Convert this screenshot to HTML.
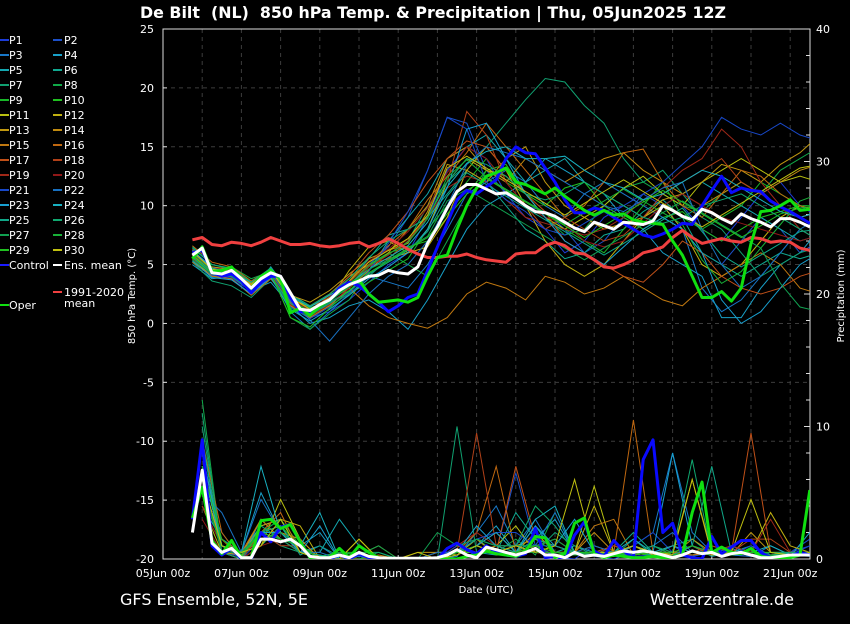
<!DOCTYPE html>
<html><head><meta charset="utf-8">
<style>
html,body{margin:0;padding:0;background:#000;}
body{width:850px;height:620px;overflow:hidden;font-family:"DejaVu Sans","Liberation Sans",sans-serif;}
svg text{font-family:"DejaVu Sans","Liberation Sans",sans-serif;fill:#fff;}
</style></head>
<body>
<svg id="chart" width="850" height="620" viewBox="0 0 850 620" xmlns="http://www.w3.org/2000/svg">
<rect x="0" y="0" width="850" height="620" fill="#000"/>
<text x="140" y="18" font-size="16" font-weight="bold" textLength="586" lengthAdjust="spacingAndGlyphs" style="white-space:pre">De Bilt&#160; (NL)&#160; 850 hPa Temp. &amp; Precipitation | Thu, 05Jun2025 12Z</text>
<defs><clipPath id="plotclip"><rect x="163" y="29" width="647" height="530"/></clipPath></defs>
<g id="grid"></g>
<g id="axes"></g>
<g id="series" clip-path="url(#plotclip)"></g>
<g id="legend"></g>
<text x="120" y="605" font-size="16">GFS Ensemble, 52N, 5E</text>
<text x="794" y="605" font-size="16" text-anchor="end">Wetterzentrale.de</text>
</svg>
<script>
// ---- data ----
const xTickLabels = ["05Jun 00z","07Jun 00z","09Jun 00z","11Jun 00z","13Jun 00z","15Jun 00z","17Jun 00z","19Jun 00z","21Jun 00z"];
const xTickDays = [0,2,4,6,8,10,12,14,16];
const tempTicks = [25,20,15,10,5,0,-5,-10,-15,-20];
const precipTicks = [0,10,20,30,40];
// 6-hourly main series, starting 05Jun 18z
const ensMean = [5.8,6.4,4.3,4.2,4.5,3.8,3.0,3.8,4.3,4.0,2.6,1.2,1.1,1.6,2.0,2.8,3.3,3.6,4.0,4.1,4.5,4.3,4.2,4.8,6.8,8.2,9.8,11.2,11.8,11.8,11.4,11.0,11.1,10.6,10.0,9.5,9.4,9.1,8.6,8.1,7.8,8.6,8.3,8.0,8.6,8.5,8.4,8.7,10.0,9.6,9.1,8.8,9.7,9.4,8.9,8.5,9.3,8.9,8.6,8.2,8.9,8.9,8.6,8.2];
const controlTemp = [6.0,6.2,4.4,4.0,4.2,3.6,2.6,3.5,4.0,4.0,2.2,1.0,1.0,1.6,2.0,3.0,3.5,3.2,2.5,1.8,1.0,1.5,2.2,2.5,4.5,6.5,8.5,10.5,11.3,11.0,11.6,12.2,14.0,15.0,14.5,14.4,13.2,12.0,10.5,9.4,9.4,9.8,9.6,9.0,8.5,8.0,7.5,7.3,7.6,8.0,8.5,8.4,10.0,11.3,12.5,11.1,11.5,11.3,11.2,10.4,9.9,9.5,9.0,8.5];
const operTemp = [5.5,6.5,4.4,4.5,4.8,3.8,3.0,4.0,4.5,3.8,0.9,1.3,0.7,1.5,2.0,2.8,3.3,3.7,2.5,1.8,1.9,2.0,1.8,2.2,4.0,5.6,5.8,8.0,10.0,11.5,12.5,12.8,13.2,12.0,11.8,11.4,11.0,11.5,10.8,10.2,9.6,9.2,9.6,9.2,9.3,8.8,8.6,8.5,8.4,7.0,5.8,4.0,2.2,2.2,2.7,1.9,3.0,6.8,9.5,9.6,10.0,10.5,9.6,9.7];
const climTemp = [7.1,7.3,6.7,6.6,6.9,6.8,6.6,6.9,7.3,7.0,6.7,6.7,6.8,6.6,6.5,6.6,6.8,6.9,6.5,6.8,7.2,6.8,6.3,5.9,5.6,5.6,5.7,5.7,5.9,5.6,5.4,5.3,5.2,5.9,6.0,6.0,6.6,6.9,6.6,6.0,5.9,5.4,4.8,4.7,5.0,5.4,6.0,6.2,6.5,7.3,7.9,7.3,6.8,7.0,7.2,7.0,6.9,7.3,7.2,6.9,7.0,6.9,6.4,6.2];
const ensMeanPrecip = [2.0,6.7,1.2,0.5,0.8,0.1,0.1,1.5,1.5,1.3,1.5,1.0,0.2,0.1,0.1,0.3,0.1,0.5,0.2,0.1,0.05,0.05,0.05,0.05,0.05,0.1,0.3,0.7,0.3,0.1,0.9,0.7,0.5,0.3,0.5,0.8,0.3,0.3,0.1,0.5,0.2,0.3,0.2,0.4,0.6,0.5,0.6,0.5,0.3,0.1,0.3,0.6,0.4,0.5,0.2,0.4,0.5,0.3,0.1,0.1,0.2,0.3,0.3,0.3];
const controlPrecip = [3.0,9.0,1.0,0.3,0.8,0.0,0.0,2.0,1.3,2.4,2.6,1.3,0.1,0.0,0.0,0.3,0.0,0.4,0.1,0.0,0.0,0.0,0.0,0.0,0.0,0.0,0.8,1.2,0.7,0.4,1.0,0.5,0.3,0.2,0.4,2.3,0.1,0.2,0.0,1.8,2.8,0.6,0.2,1.4,0.6,0.1,7.5,9.0,2.0,2.7,0.3,0.1,0.0,1.7,0.4,0.9,1.4,1.4,0.5,0.1,0.0,0.2,0.5,0.3];
const operPrecip = [3.1,5.4,1.4,0.4,1.4,0.1,0.1,2.9,3.0,2.3,2.6,1.3,0.1,0.1,0.1,0.8,0.1,1.0,0.5,0.1,0.0,0.0,0.0,0.0,0.0,0.0,0.0,0.0,0.2,0.3,0.6,0.4,0.3,0.2,0.6,1.7,1.6,0.1,0.4,2.7,3.1,0.4,0.1,0.3,0.2,0.1,0.1,0.2,0.1,0.1,0.3,3.5,5.8,0.5,0.9,0.5,0.4,0.8,0.2,0.1,0.1,0.1,0.3,5.2];
// 12-hourly member temperatures, starting 05Jun 18z
const memberTemps = [
[5.5,4.0,3.8,2.5,4.0,1.5,0.5,1.0,2.0,3.5,5.0,6.0,9.0,13.0,15.0,14.0,11.0,9.0,8.0,6.0,7.0,9.0,10.0,9.0,11.0,10.0,8.0,7.0,9.0,11.0,12.0,10.0,9.0],
[6.0,4.5,4.0,3.0,4.5,2.0,1.0,1.5,3.0,5.0,6.5,9.0,13.0,17.5,17.0,13.0,11.0,10.0,9.5,8.0,6.0,7.0,9.0,11.0,10.0,8.0,6.0,5.0,7.0,9.0,8.0,6.0,7.0],
[6.2,4.8,4.5,3.2,4.2,1.0,-0.5,1.0,2.5,4.0,3.5,3.0,5.0,8.0,11.0,12.0,13.0,12.0,10.0,9.0,11.0,12.0,11.0,10.0,9.0,8.0,3.0,1.0,2.0,4.0,6.0,8.0,7.0],
[5.0,3.8,4.0,2.8,3.5,1.5,0.0,0.5,1.5,2.0,1.0,-0.5,2.0,5.0,8.0,10.0,11.0,12.0,14.0,13.0,12.0,11.0,9.0,8.0,6.0,5.0,4.0,0.5,0.5,3.0,5.0,6.0,8.0],
[5.8,4.2,4.4,2.6,4.8,2.5,1.5,2.0,3.0,4.5,7.0,9.0,11.0,14.0,15.0,16.0,14.0,12.0,13.0,14.0,12.0,11.0,10.0,9.0,10.0,11.0,12.0,11.0,10.0,9.0,8.0,7.0,7.5],
[6.4,5.0,4.6,3.4,4.0,2.0,1.2,2.2,3.5,5.5,7.5,8.0,9.0,11.0,13.0,12.0,10.0,8.0,7.0,5.5,6.0,7.5,8.0,9.5,10.5,9.0,6.0,5.0,4.0,5.0,6.0,5.5,6.0],
[5.2,3.6,3.2,2.2,3.8,1.8,0.8,1.8,2.8,4.0,5.5,7.0,10.0,12.0,13.5,15.0,17.0,19.0,20.8,20.5,18.5,17.0,14.0,12.0,13.0,11.0,9.0,8.0,6.0,4.0,5.0,6.0,6.5],
[5.6,4.4,4.8,3.8,4.4,0.5,-0.5,0.8,2.0,4.5,6.0,5.0,4.0,7.0,10.0,13.0,12.0,10.0,9.0,7.5,8.0,10.0,11.5,12.0,11.0,10.0,9.5,11.0,12.0,11.0,13.0,14.0,15.0],
[6.0,4.4,4.2,3.0,4.2,1.8,1.0,1.5,2.5,3.5,4.5,5.5,8.0,10.0,12.0,14.0,12.0,11.0,9.0,8.0,7.0,6.0,8.0,10.0,12.0,9.0,8.0,9.0,10.0,12.0,11.0,10.0,10.0],
[6.1,4.6,4.2,3.2,4.6,2.2,1.3,2.0,3.2,5.0,6.0,6.5,7.0,9.0,11.0,13.0,13.5,11.0,10.0,11.5,12.0,10.0,9.0,8.0,9.0,9.5,8.0,7.0,8.0,9.0,9.5,10.0,9.5],
[5.6,4.2,4.0,2.8,4.4,2.0,1.5,2.5,4.0,5.0,5.5,6.0,8.0,12.0,14.0,13.0,12.5,11.0,9.0,8.0,9.0,10.0,11.5,12.5,11.0,10.0,12.0,13.0,14.0,13.0,12.0,12.5,12.0],
[5.4,4.0,4.2,3.0,4.0,1.5,1.0,2.0,4.5,6.5,7.0,6.0,6.5,9.0,13.0,15.0,13.0,10.0,7.0,5.0,4.0,5.0,7.0,9.0,10.0,8.0,5.0,4.0,5.0,7.0,9.0,10.0,9.5],
[6.0,4.8,4.6,3.4,4.6,2.4,1.8,2.8,4.2,5.5,6.2,6.8,9.5,13.5,13.0,12.0,14.0,15.0,12.0,10.0,9.0,8.0,8.5,9.0,10.5,11.0,12.0,13.5,13.0,12.0,13.5,14.5,16.0],
[5.8,4.4,4.4,3.2,4.4,1.5,0.5,1.5,3.0,4.5,6.0,8.0,10.0,14.0,15.0,13.0,12.0,14.0,13.0,12.0,13.0,14.0,14.5,13.0,12.0,11.0,10.0,11.0,12.0,11.0,12.0,13.0,13.5],
[5.2,4.0,3.8,2.4,3.8,1.6,1.5,2.0,3.0,1.5,0.5,0.0,-0.4,0.5,2.5,3.5,3.0,2.0,4.0,3.5,2.5,3.0,4.0,3.0,2.0,1.5,3.0,4.0,5.0,6.0,5.0,3.0,2.5],
[6.6,5.2,4.8,3.6,4.6,2.2,1.2,2.2,3.8,5.2,6.6,8.0,10.5,12.5,14.5,17.0,15.0,13.0,11.0,9.0,10.0,12.0,14.5,14.8,12.0,10.0,9.0,11.0,13.0,12.5,11.0,10.0,9.5],
[5.8,4.6,4.4,3.0,4.2,1.8,0.8,2.5,4.0,6.0,7.5,9.5,12.0,14.0,15.5,15.0,13.0,11.0,9.5,7.0,6.0,5.0,4.0,3.5,5.0,7.0,6.0,4.0,3.0,2.5,3.0,4.0,4.5],
[6.3,4.5,4.3,3.2,4.5,2.0,1.0,2.0,3.5,5.0,5.5,7.0,9.0,12.0,18.0,16.0,12.0,10.0,8.0,9.0,8.0,7.0,7.5,9.0,11.0,12.0,13.0,14.0,12.0,11.0,10.0,9.0,9.5],
[5.5,4.3,4.1,2.9,4.3,1.6,0.6,1.6,3.0,4.8,5.8,7.2,9.0,11.5,12.5,12.0,10.5,9.0,8.5,8.0,7.5,8.0,9.0,10.5,11.5,13.0,14.0,16.5,15.0,12.0,10.0,8.0,7.0],
[5.9,4.7,4.5,3.3,4.3,2.1,1.1,2.3,3.6,5.3,6.3,7.8,9.8,12.8,15.0,14.0,12.0,10.0,9.0,8.5,7.0,6.5,7.0,8.5,10.0,11.0,10.0,9.0,8.5,8.0,7.5,7.0,7.5],
[5.7,4.1,3.9,2.7,4.1,1.4,0.4,1.4,2.6,4.4,6.8,9.5,13.0,17.5,16.5,12.0,10.5,9.5,8.0,7.5,8.5,9.5,10.0,11.0,12.0,13.5,15.0,17.5,16.5,16.0,17.0,16.0,15.5],
[6.0,4.3,4.3,3.1,4.3,1.9,0.3,-1.5,0.5,2.5,4.0,5.0,7.0,10.0,13.5,15.0,14.5,14.0,13.0,12.0,11.0,10.0,9.5,10.5,11.5,12.0,8.0,5.0,3.0,4.0,6.0,8.0,9.0],
[5.3,3.9,3.7,2.5,3.9,1.2,0.2,1.2,2.4,3.8,4.8,6.0,8.0,11.5,16.5,17.0,14.0,11.0,9.0,7.0,6.0,5.0,6.5,8.0,9.0,8.0,6.0,2.0,0.0,1.0,3.0,5.0,6.0],
[6.2,4.7,4.3,3.5,4.7,2.3,1.4,2.4,3.4,4.6,5.6,6.6,8.6,11.6,13.6,14.6,15.0,14.0,14.0,14.2,13.0,12.0,11.5,10.5,11.0,12.0,13.0,12.5,11.5,10.5,9.5,9.0,9.5],
[5.6,4.2,4.0,2.8,4.0,1.7,0.7,1.7,2.7,4.2,5.2,6.2,7.8,10.8,12.8,11.8,10.8,9.8,8.8,7.8,6.8,5.8,6.8,7.8,8.8,9.8,7.8,5.8,4.8,5.8,6.8,7.8,8.0],
[6.5,5.0,4.7,3.5,4.7,2.4,1.5,2.5,3.8,5.6,7.0,8.0,9.0,12.0,14.0,13.5,12.5,11.0,10.5,11.0,12.0,11.0,10.0,9.0,8.5,9.0,10.0,10.5,11.0,10.0,9.0,8.0,7.0],
[5.4,4.2,4.0,2.9,4.1,1.3,0.6,1.9,3.1,4.6,5.4,6.4,7.4,10.4,11.4,10.4,9.4,8.4,7.4,6.4,5.4,6.4,7.4,8.4,9.4,10.4,9.4,8.4,7.4,6.4,3.4,1.4,1.0],
[5.9,4.5,4.3,3.1,4.5,2.0,1.0,2.0,3.3,4.9,5.9,6.9,8.9,12.4,13.9,12.4,11.4,10.4,9.4,8.4,9.4,10.4,11.4,10.4,9.4,8.4,5.4,3.4,4.4,6.4,8.4,10.4,11.0],
[5.7,4.3,4.1,2.9,4.3,0.5,-0.3,1.3,2.8,4.3,5.3,6.3,7.3,9.3,11.3,12.3,11.3,10.3,9.3,8.3,7.3,8.3,9.3,10.3,11.3,10.3,9.3,8.3,7.3,8.3,9.3,9.8,10.0],
[6.1,4.6,4.4,3.3,4.5,2.2,1.2,2.2,3.6,5.2,6.2,7.2,9.2,13.2,14.2,13.2,12.2,11.2,10.2,9.2,10.2,11.2,12.2,11.2,10.2,9.2,8.2,9.2,10.2,11.2,12.2,13.2,13.5]
];
// 12-hourly member precipitation, starting 06Jun 00z
const memberPrecip = [
[8,0.5,0.2,2,1.5,0.5,0,0,0,0,0,0,0,0.3,1,2,0.5,1,0.2,0,1,0.5,0.2,0.3,1,0.2,0.5,0.3,0.2,0.1,0.5,1],
[6,1,0,1.5,2,1,0.2,0.5,0,0,0,0,0,0.5,1.5,0.5,6.5,1,0.3,0.5,0.2,0,0.5,1,0.3,0.2,0.5,1,0.3,0.2,0.5,1.5],
[5,2,0,3,1.5,0.5,1,0,0.2,0,0,0,0,0.2,2,4,1,3,0.5,0.5,0.3,0.5,1,2,8,2,0.5,0.3,0.2,1,0.3,0.2],
[4,1.5,0.5,5,2,1,2,0,0,0,0,0,0,0.5,1,2.5,0.5,1.5,3,0.5,0.3,0.2,1,0.5,0.5,0.3,0.5,0.8,0.3,0.5,0.2,2],
[7,1,0.5,2.5,3,0.5,0.5,3,1,0,0,0,0,0,0.5,0.3,0.5,2.5,0.5,1,0.5,0.2,0.5,0.3,0.2,1,0.2,0.5,1,0.2,0.5,0.3],
[9,0.5,0,1,2.5,0.3,1,0.2,0,0,0,0,0,0.5,1,0.5,3.5,1.5,1,0.5,0.3,1,0.5,0.3,0.5,1,0.5,0.3,0.5,0.3,0.2,0.5],
[10,1,0.5,2,1,0.5,0.3,0,0.5,0.5,0,0,0,10,0.5,1,0.5,0.5,2,1,0.3,0.2,1.5,0.3,1,1.5,0.3,0.5,0.3,0.2,0.5,0.3],
[12,0.5,0.3,1.5,2,0.5,0,0,0,0,0,0,0,0.3,1.5,0.5,1.5,0.3,3.5,0.5,0.5,0.3,0.5,1,0.3,0.5,0.5,0.3,0.5,0.2,0.5,0.3],
[6,1,0.2,2,3,1,0,0.5,0.5,0,0,0,0.5,0.5,0.5,1,0.5,0.5,0.5,0.3,0.3,0.5,0.5,0.2,0.3,0.5,0.3,0.5,0.5,0.2,0.2,0.5],
[5,1.5,0.2,2,2.5,1,0.2,0.5,0,0,0,0,0,0.3,1,0.5,0.5,1.5,0.5,0.3,0.5,0.5,0.3,0.5,0.5,0.3,0.5,1,0.5,0.3,0.3,0.3],
[4,0.5,0,1,4.5,1.5,0,0.5,0.3,1,0,0,0,0.5,0.5,1,2.5,0.5,0.3,0.5,5.5,0.5,0.3,0.5,0.3,1,0.3,0.5,0.3,0.5,0.5,0.5],
[7,1,0.2,2.5,3,2.5,0,0,1.5,0,0,0,0,0.5,1,0.5,1,1.5,1,0.5,4,0.5,1,0.3,0.5,6,0.5,0.3,0.5,3.5,1,0.5],
[6,0.5,0.3,3,1.5,1,0,0,0,0,0,0.5,0.5,0.3,1.5,0.3,0.5,2,0.5,0.5,0.3,0.3,1,0.5,0.3,1.5,0.5,0.3,2,0.5,0.3,0.5],
[5,1.5,0,2,2,1.5,0,0,0,0.3,0,0,0.5,0.5,1,0.5,1,0.5,1,0.5,2,0.5,0.5,0.5,0.3,0.3,0.5,0.5,0.5,0.3,0.3,0.5],
[8,1,0.5,3,1.5,0.5,0,0,0.3,0,0,0,0,1,0.5,1,0.5,1,0.5,0.5,2.5,3,0.3,0.5,0.3,0.5,0.5,0.3,0.5,0.3,0.3,0.5],
[9,2,0,2,3.5,0.5,0,0,0,0,0,0,0,0.5,2,7,0.5,1,1.5,0.5,1,0.5,10.5,0.5,0.5,0.3,0.5,0.5,0.5,0.3,0.5,0.5],
[7,1,0.3,1.5,2,0.5,0,0,0.5,0,0,0,0,0.5,1,0.5,7,1.5,1,0.5,0.5,1,0.5,0.5,0.3,0.5,1,0.5,9.5,0.5,0.3,0.5],
[5,1.5,0,2,1,1,0,0,0,0.2,0,0,0.5,0.5,9.5,1,0.5,0.5,0.5,0.5,0.3,1,0.5,0.5,0.5,1,0.3,0.5,1.5,1.5,0.5,0.5],
[4,1,0.5,1.5,2,0.5,0,0.3,0,0,0,0,0,1,2,1,1,0.5,0.5,0.5,0.3,0.5,0.5,0.5,1,0.5,0.5,1,0.5,3,0.5,0.5],
[3,0.5,0,1,1.5,0.5,0,0,0,0,0,0,0,0.5,1,2,0.5,0.5,0.3,0.5,0.3,0.5,0.5,0.5,0.3,0.5,0.5,0.3,0.5,0.3,0.5,0.5],
[6,1,0.5,2,1.5,1,0,0,0,0,0,0,0,1,1.5,2,2,1,1,0.5,0.5,0.5,1,2,0.5,1,0.5,0.3,1,0.3,0.3,1],
[5,3.5,0.5,4.5,2,0.5,0.5,0,0,0,0,0,0.5,0.5,1.5,1,1,1,3.5,0.5,1,0.5,0.5,1,2,0.5,0.5,0.5,0.3,0.5,0.3,0.5],
[8,1,0.3,2,2,0.5,2.5,0,0,0,0,0,0,0.5,2.5,1,0.5,2.5,1,3,0.5,0.3,1,0.5,8,1,0.5,0.5,0.3,0.5,0.3,0.5],
[7,1,0.5,7,2,1,3.5,0,0,0,0,0,0,0.5,1,2,0.5,3,4,0.5,0.5,0.5,1.5,0.5,1,0.5,0.5,0.3,0.5,1,0.3,0.5],
[9,1,0.5,2,2.5,0.5,0.3,0,0,0,0,0,0,0.5,1.5,1,0.5,1.5,1,0.5,0.3,0.5,2,0.5,0.3,1,7,0.5,0.5,0.3,0.5,0.5],
[11,0.5,0,2.5,1.5,0.5,0,0,0,0.5,0,0,0,0.5,1,0.5,1,4,2.5,0.5,0.5,0.5,0.5,1,0.5,7.5,0.3,0.5,0.3,0.5,0.5,0.5],
[6,0.5,0.5,2,3,0.5,0,0.5,0.3,1,0,0,2,1,1.5,1,1,1,1.5,0.5,0.5,0.3,0.5,0.5,0.3,0.5,0.5,0.5,0.3,0.5,0.3,0.5],
[5,1,0.5,1.5,2,1,0,0,0,0,0,0,0,0.5,1,0.5,0.5,0.5,0.5,0.3,0.5,0.5,0.5,0.5,0.3,0.5,0.5,0.3,0.5,0.3,0.3,0.5],
[7,1.5,0.3,2,1.5,1,0,0,0,0,0,0,0,0.5,0.5,0.5,0.5,1,0.5,0.5,0.5,0.5,0.3,0.5,0.5,1,0.5,0.3,0.5,0.5,0.3,0.5],
[6,1,0.5,1,3,0.5,0,0,1.5,0,0,0.5,0,0.3,1,0.5,1,0.5,1,6,0.5,0.5,1,0.5,0.3,6,0.3,0.5,4.5,0.5,0.3,0.5]
];
const memberColors = ["#1c3cd8","#1c50c8","#1878c8","#18a0c8","#14a8b0","#10a890","#10a070","#10a848","#18b828","#20c020","#b8c010","#c0b010","#c09810","#c08a10","#c07810","#c06810","#c05018","#b04018","#a02818","#901818","#1848c8","#1870c0","#18a0d0","#18b0c0","#10a888","#10a870","#10a050","#18b038","#20c020","#c0c010"];

// ---- scales ----
const NS="http://www.w3.org/2000/svg";
const X0=163, X1=810, Y0=29, Y1=559, PXDAY=39.2;
function xDay(d){return X0+d*PXDAY;}
function yT(t){return Y1-(t+20)*(Y1-Y0)/45;}
function yP(p){return Y1-p*(Y1-Y0)/40;}
function el(tag,attrs,parent){const e=document.createElementNS(NS,tag);for(const k in attrs)e.setAttribute(k,attrs[k]);parent.appendChild(e);return e;}
function pts(arr,d0,step,yf){return arr.map((v,i)=>xDay(d0+i*step).toFixed(1)+","+yf(v).toFixed(1)).join(" ");}

const grid=document.getElementById("grid"), axes=document.getElementById("axes"), series=document.getElementById("series"), legend=document.getElementById("legend");
for(let d=1;d<=16;d++){
  const g=el("line",{x1:xDay(d),x2:xDay(d),y1:Y0,y2:Y1,stroke:"#3c3c3c","stroke-dasharray":"4,4","stroke-width":1},grid);
  
  
}
tempTicks.forEach(t=>{
  if(t===25||t===-20)return;
  const g=el("line",{x1:X0,x2:X1,y1:yT(t),y2:yT(t),stroke:"#3c3c3c","stroke-dasharray":"4,4","stroke-width":1},grid);
  
  
});
const fr=el("rect",{x:X0,y:Y0,width:X1-X0,height:Y1-Y0,fill:"none",stroke:"#ddd","stroke-width":1},axes);


tempTicks.forEach(t=>{
  el("line",{x1:X0,x2:X0+4,y1:yT(t),y2:yT(t),stroke:"#ddd"},axes);
  const tx=el("text",{x:154,y:yT(t)+4,"font-size":11,"text-anchor":"end"},axes);
  tx.textContent=String(t);
  
  
});
for(let p=0;p<=40;p+=2){
  el("line",{x1:X1,x2:X1-(p%10===0?6:4),y1:yP(p),y2:yP(p),stroke:"#ddd"},axes);
}
precipTicks.forEach(p=>{
  const tx=el("text",{x:816,y:yP(p)+4,"font-size":11},axes);
  tx.textContent=String(p);
  
  
});
xTickLabels.forEach((lab,i)=>{
  const x=xDay(xTickDays[i]);
  el("line",{x1:x,x2:x,y1:Y1,y2:Y1-4,stroke:"#ddd"},axes);
  const tx=el("text",{x:x,y:577,"font-size":11,"text-anchor":"middle"},axes);
  tx.textContent=lab;
  
  
});
const xt=el("text",{x:486,y:593,"font-size":10,"text-anchor":"middle"},axes);
xt.textContent="Date (UTC)";


const yt=el("text",{x:0,y:0,"font-size":10,"text-anchor":"middle",transform:"translate(135,296) rotate(-90)"},axes);
yt.textContent="850 hPa Temp. (°C)";


const y2t=el("text",{x:0,y:0,"font-size":10,"text-anchor":"middle",transform:"translate(844,296) rotate(-90)"},axes);
y2t.textContent="Precipitation (mm)";



memberPrecip.forEach((arr,m)=>{
  const l=el("polyline",{points:pts(arr,1.0,0.5,yP),fill:"none",stroke:memberColors[m],"stroke-width":1},series);
  
  
});
memberTemps.forEach((arr,m)=>{
  const l=el("polyline",{points:pts(arr,0.75,0.5,yT),fill:"none",stroke:memberColors[m],"stroke-width":1},series);
  
  
});
function main(arr,yf,color,w,name){
  const l=el("polyline",{points:pts(arr,0.75,0.25,yf),fill:"none",stroke:color,"stroke-width":w,"stroke-linejoin":"round"},series);
  
  
}
main(climTemp,yT,"#f04040",3,"climate-mean-line");
main(controlPrecip,yP,"#0a0aff",3,"control-precip-line");
main(operPrecip,yP,"#10e010",3,"oper-precip-line");
main(ensMeanPrecip,yP,"#ffffff",3,"ens-mean-precip-line");
main(controlTemp,yT,"#0a0aff",3,"control-temp-line");
main(operTemp,yT,"#10e010",3,"oper-temp-line");
main(ensMean,yT,"#ffffff",3,"ens-mean-temp-line");

for(let i=0;i<30;i++){
  const col=i%2, row=Math.floor(i/2);
  const y=40+row*15, lx=col?53:0, tx=col?64:9;
  el("line",{x1:lx,x2:lx+9,y1:y,y2:y,stroke:memberColors[i],"stroke-width":2},legend);
  const t=el("text",{x:tx,y:y+4,"font-size":11},legend);
  t.textContent="P"+(i+1);
  
  
}
function leg(x,y,color,label){
  el("line",{x1:x,x2:x+9,y1:y,y2:y,stroke:color,"stroke-width":2},legend);
  const t=el("text",{x:x+(x?11:9),y:y+4,"font-size":11},legend);
  t.textContent=label;
  
  
}
leg(0,265,"#1a1aff","Control");
leg(53,265,"#ffffff","Ens. mean");
leg(0,305,"#10e010","Oper");
leg(53,292,"#f04040","1991-2020");
const mt=el("text",{x:64,y:307,"font-size":11},legend);
mt.textContent="mean";


</script>
</body></html>
